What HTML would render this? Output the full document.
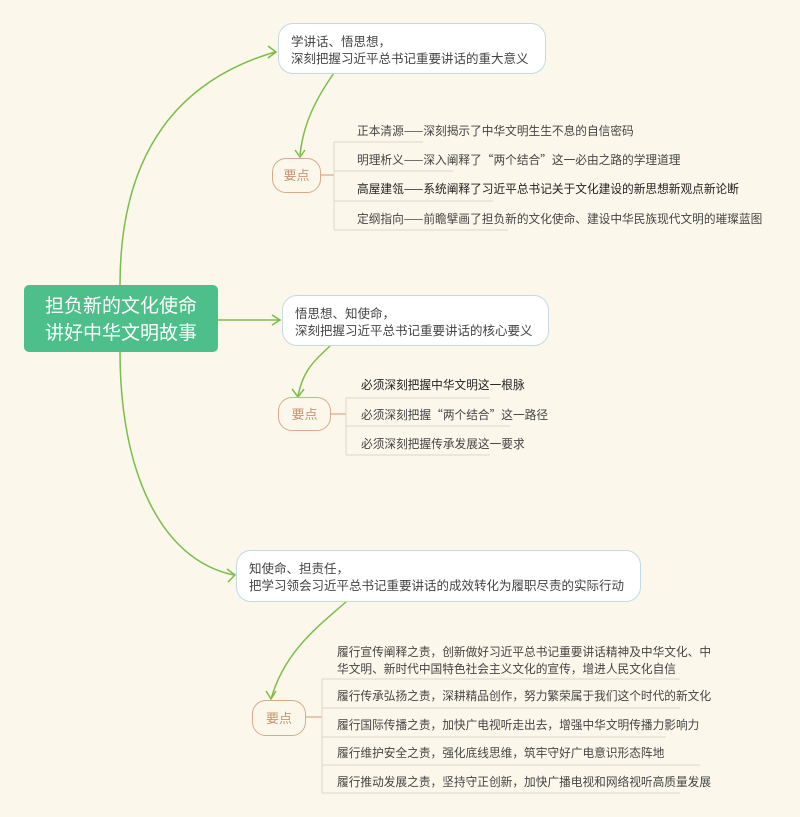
<!DOCTYPE html>
<html><head><meta charset="utf-8"><style>
body{margin:0;width:800px;height:817px;background:#fbf7ea;position:relative;overflow:hidden;font-family:"Noto Sans CJK SC","Liberation Sans",sans-serif;}
.a{position:absolute;white-space:nowrap;}
.n{position:absolute;background:#fff;border:1.5px solid #c3dae4;border-radius:15px;box-sizing:border-box;font-size:12.5px;color:#444;line-height:17px;padding:8px 12px;}
.y{position:absolute;border:1.5px solid #d9aa8a;border-radius:14px;box-sizing:border-box;color:#c99470;font-size:13px;text-align:center;background:#fbf7ea;}
.t{position:absolute;font-size:11.7px;color:#444;white-space:nowrap;}
</style></head><body>
<svg class="a" style="left:0;top:0" width="800" height="817">
<g fill="none" stroke="#7cbd4c" stroke-width="1.5">
<path d="M120 285 C120 150 180 80 275 52"/>
<path d="M268 46 L276 52 L268 58"/>
<path d="M120 352 C120 470 160 560 234 575"/>
<path d="M227 569 L235 575 L228 582"/>
<path d="M218 320 L280 320"/>
<path d="M272 315 L280 320 L272 325"/>
<path d="M334 73 C315 100 303 125 300 155"/>
<path d="M295 150 L300 157 L305 150"/>
<path d="M330 346 C315 360 303 370 298 396"/>
<path d="M292 389 L298 397 L304 389"/>
<path d="M347 601 C320 625 285 650 271 699"/>
<path d="M266 691 L271 699 L276 691"/>
</g>
<g fill="none" stroke="#d9aa8a" stroke-width="1.2">
<path d="M320 175 L334 175"/><path d="M331 414 L346 414"/><path d="M306 717 L322 717"/>
</g>
<g fill="none" stroke="#ddd8c8" stroke-width="1">
<path d="M334 142 L334 230"/>
<path d="M334 142 L423 142 M334 171 L453 171 M334 201 L493 201 M334 230 L508 230"/>
<path d="M346 398 L490 398 M346 426 L510 426 M346 455 L490 455 M346 398 L346 455"/>
<path d="M322 679 L680 679 M322 708 L680 708 M322 737 L666 737 M322 765 L700 765 M322 793 L680 793 M322 679 L322 793"/>
</g>
</svg>
<div class="a" style="left:24px;top:285px;width:194px;height:67px;background:#4cbf8a;border-radius:5px;color:#fff;font-size:19px;line-height:27px;text-align:center;padding-top:6px;box-sizing:border-box;">担负新的文化使命<br>讲好中华文明故事</div>
<div class="n" style="left:278px;top:23px;width:268px;height:51px;">学讲话、悟思想，<br>深刻把握习近平总书记重要讲话的重大意义</div>
<div class="n" style="left:282px;top:295px;width:267px;height:51px;">悟思想、知使命，<br>深刻把握习近平总书记重要讲话的核心要义</div>
<div class="n" style="left:236px;top:550px;width:405px;height:52px;">知使命、担责任，<br>把学习领会习近平总书记重要讲话的成效转化为履职尽责的实际行动</div>
<div class="y" style="left:272px;top:158px;width:49px;height:35px;line-height:32px;">要点</div>
<div class="y" style="left:278px;top:397px;width:53px;height:34px;line-height:31px;">要点</div>
<div class="y" style="left:252px;top:700px;width:54px;height:36px;line-height:33px;">要点</div>
<div class="t" style="left:357px;top:122px;">正本清源——深刻揭示了中华文明生生不息的自信密码</div>
<div class="t" style="left:357px;top:151px;">明理析义——深入阐释了“两个结合”这一必由之路的学理道理</div>
<div class="t" style="left:357px;top:180px;color:#222">高屋建瓴——系统阐释了习近平总书记关于文化建设的新思想新观点新论断</div>
<div class="t" style="left:357px;top:210px;">定纲指向——前瞻擘画了担负新的文化使命、建设中华民族现代文明的璀璨蓝图</div>
<div class="t" style="left:361px;top:376px;color:#222">必须深刻把握中华文明这一根脉</div>
<div class="t" style="left:361px;top:406px;">必须深刻把握“两个结合”这一路径</div>
<div class="t" style="left:361px;top:435px;">必须深刻把握传承发展这一要求</div>
<div class="t" style="left:337px;top:643px;line-height:17px;">履行宣传阐释之责，创新做好习近平总书记重要讲话精神及中华文化、中<br>华文明、新时代中国特色社会主义文化的宣传，增进人民文化自信</div>
<div class="t" style="left:337px;top:687px;">履行传承弘扬之责，深耕精品创作，努力繁荣属于我们这个时代的新文化</div>
<div class="t" style="left:337px;top:716px;">履行国际传播之责，加快广电视听走出去，增强中华文明传播力影响力</div>
<div class="t" style="left:337px;top:744px;">履行维护安全之责，强化底线思维，筑牢守好广电意识形态阵地</div>
<div class="t" style="left:337px;top:773px;">履行推动发展之责，坚持守正创新，加快广播电视和网络视听高质量发展</div>
</body></html>
